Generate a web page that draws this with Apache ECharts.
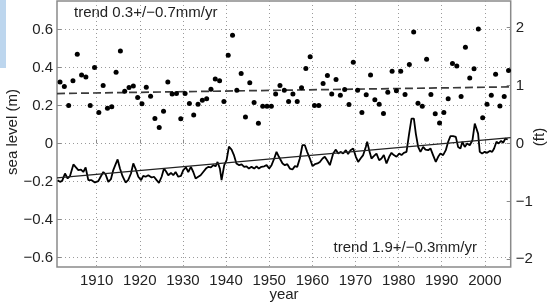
<!DOCTYPE html>
<html><head><meta charset="utf-8">
<script src="https://cdn.jsdelivr.net/npm/echarts@6/dist/echarts.min.js"></script>
<style>html,body{margin:0;padding:0;background:#fff;}#c{width:549px;height:306px;}</style>
</head><body><div id="c"></div>
<script>
// ---- data ----
var xTicks = [1910,1920,1930,1940,1950,1960,1970,1980,1990,2000];
var yTicksM = [-0.6,-0.4,-0.2,0,0.2,0.4,0.6];
var yTicksFt = [-2,-1,0,1,2];

var dotYears = [1901,1902,1903,1904,1905,1906,1907,1908,1909,1910,1911,1912,1913,1914,1915,1916,1917,1918,1919,1920,
1921,1922,1923,1924,1925,1926,1927,1928,1929,1930,1931,1932,1933,1934,1935,1936,1937,1938,1939,1940,
1941,1942,1943,1944,1945,1946,1947,1948,1949,1950,1951,1952,1953,1954,1955,1956,1957,1958,1959,1960,
1961,1962,1963,1964,1965,1966,1967,1968,1969,1970,1971,1972,1973,1974,1975,1976,1977,1978,1979,1980,
1981,1982,1983,1984,1985,1986,1987,1988,1989,1990,1991,1992,1993,1994,1995,1996,1997,1998,1999,2000,
2001,2002,2003,2004,2005];
var dotValues = [0.324,0.30,0.20,0.33,0.47,0.36,0.35,0.20,0.40,0.163,0.305,0.186,0.193,0.375,0.487,0.275,0.295,0.303,0.242,0.209,
0.296,0.249,0.131,0.084,0.17,0.324,0.26,0.263,0.13,0.263,0.21,0.15,0.207,0.228,0.235,0.286,0.34,0.33,0.221,0.465,
0.57,0.28,0.368,0.14,0.32,0.216,0.107,0.196,0.196,0.196,0.26,0.305,0.28,0.221,0.261,0.221,0.293,0.395,0.456,0.20,
0.20,0.316,0.358,0.261,0.337,0.254,0.284,0.205,0.428,0.28,0.163,0.256,0.361,0.23,0.207,0.158,0.27,0.38,0.277,0.38,
0.258,0.416,0.587,0.212,0.196,0.444,0.258,0.156,0.108,0.163,0.235,0.421,0.408,0.247,0.507,0.345,0.393,0.603,0.135,0.207,
0.254,0.365,0.198,0.247,0.384];

var lineYears = [1900.96,1901.5,1902.0,1902.65,1903.27,1903.8,1904.6,1905.2,1905.74,1906.36,1906.9,1907.44,1908.06,1908.83,1909.6,
1910.38,1910.92,1911.54,1912.08,1912.7,1913.3,1913.85,1914.4,1914.86,1915.4,1916.0,1916.7,1917.3,1917.95,1918.49,1919.0,1919.65,
1920.3,1920.8,1921.35,1921.97,1922.74,1923.28,1923.9,1924.44,1925.06,1925.6,1926.06,1926.6,1927.22,1927.76,1928.3,1928.92,1929.54,
1930.08,1930.7,1931.24,1931.85,1932.4,1932.94,1933.55,1934.1,1934.7,1935.33,1935.87,1936.49,1937.03,1937.57,1938.03,1938.57,1938.96,
1939.58,1940.12,1940.66,1941.28,1941.82,1942.4,1943.05,1943.6,1944.2,1944.75,1945.3,1945.9,1946.53,1947.07,1947.6,1948.2,1948.85,
1949.4,1950.0,1950.55,1951.17,1951.7,1952.25,1952.48,1953.1,1953.64,1954.2,1954.8,1955.4,1955.96,1956.5,1957.1,1957.7,1958.27,
1958.8,1959.43,1960.05,1960.6,1961.2,1961.75,1962.37,1962.9,1963.5,1964.07,1964.45,1964.84,1965.46,1966.0,1966.54,1967.16,1967.78,
1968.3,1968.86,1969.48,1970.1,1970.63,1971.18,1971.79,1972.4,1972.72,1973.18,1973.72,1974.26,1974.88,1975.5,1976.04,1976.58,1977.2,
1977.82,1978.36,1978.9,1979.52,1980.14,1980.68,1981.22,1981.84,1982.45,1983.0,1983.55,1984.0,1984.54,1985.08,1985.7,1986.24,1986.86,
1987.4,1988.0,1988.63,1989.18,1989.7,1990.33,1990.95,1991.5,1992.03,1992.65,1993.27,1993.8,1994.35,1994.8,1995.35,1995.9,1996.5,
1997.13,1997.67,1998.06,1998.44,1998.83,1999.37,1999.99,2000.53,2001.15,2001.7,2002.15,2002.7,2003.2,2003.77,2004.24,2004.78,2005.3];
var lineValues = [-0.193,-0.202,-0.197,-0.158,-0.184,-0.172,-0.11,-0.126,-0.14,-0.137,-0.15,-0.126,-0.193,-0.193,-0.205,
-0.198,-0.175,-0.15,-0.163,-0.202,-0.188,-0.14,-0.109,-0.084,-0.132,-0.172,-0.205,-0.193,-0.158,-0.105,-0.132,-0.175,
-0.193,-0.17,-0.175,-0.167,-0.179,-0.175,-0.193,-0.207,-0.175,-0.132,-0.146,-0.167,-0.155,-0.167,-0.15,-0.175,-0.17,
-0.14,-0.126,-0.15,-0.123,-0.15,-0.184,-0.175,-0.167,-0.15,-0.132,-0.123,-0.126,-0.114,-0.12,-0.097,-0.132,-0.193,
-0.114,-0.088,-0.017,-0.032,-0.061,-0.105,-0.114,-0.11,-0.123,-0.12,-0.132,-0.123,-0.132,-0.12,-0.132,-0.123,-0.12,
-0.114,-0.132,-0.114,-0.079,-0.044,-0.07,-0.079,-0.105,-0.114,-0.109,-0.132,-0.137,-0.119,-0.123,-0.079,-0.009,-0.009,
-0.044,-0.079,-0.119,-0.109,-0.105,-0.097,-0.079,-0.07,-0.091,-0.114,-0.123,-0.053,-0.032,-0.053,-0.044,-0.053,-0.035,
-0.056,-0.035,-0.026,-0.07,-0.097,-0.079,-0.061,-0.018,0.009,-0.035,-0.079,-0.067,-0.053,-0.088,-0.079,-0.061,-0.105,
-0.07,-0.049,-0.061,-0.07,-0.053,-0.061,-0.049,-0.044,0.052,0.131,0.131,0.052,-0.018,-0.044,-0.018,-0.032,-0.035,
-0.026,-0.061,-0.097,-0.07,-0.053,-0.061,-0.035,0.009,0.039,0.039,0.035,-0.018,-0.026,0.009,-0.018,0.0,-0.009,
0.017,0.105,0.114,0.052,-0.044,-0.053,-0.044,-0.049,-0.039,-0.044,-0.026,0.009,0.0,0.014,0.004,0.026,0.021];

var trendYears = [1900.8, 2006];
var trendLine = [-0.181, 0.031];   // 1.9 mm/yr
var trendDots = [0.263, 0.298];    // 0.3 mm/yr

function pairs(xs, ys) { return xs.map(function (x, i) { return [x, ys[i]]; }); }
function minus(s) { return String(s).replace('-', '\u2212'); }

var FONT = 'Liberation Sans, Arial, Helvetica, sans-serif';
var FS = 15;
var chart = echarts.init(document.getElementById('c'), null, {renderer: 'canvas'});
var gridStyle = {show: true, lineStyle: {color: '#9a9a9a', width: 1, type: [1, 3]}};

chart.setOption({
  animation: false,
  backgroundColor: '#fff',
  grid: {left: 57, top: 1, right: 38.3, height: 266, show: true, borderColor: '#8a8a8a', borderWidth: 1.5, backgroundColor: 'transparent'},
  xAxis: {
    type: 'value', min: 1900.8, max: 2006,
    axisLine: {show: false},
    axisTick: {show: true, inside: true, length: 4, lineStyle: {color: '#8a8a8a'}, customValues: xTicks},
    axisLabel: {customValues: xTicks, margin: 6, color: '#222', fontSize: FS, fontFamily: FONT,
      formatter: function (v) { return String(Math.round(v)); }},
    splitLine: gridStyle
  },
  yAxis: [{
    type: 'value', min: -0.65, max: 0.75,
    axisLine: {show: false},
    axisTick: {show: true, inside: true, length: 4, lineStyle: {color: '#8a8a8a'}, customValues: yTicksM},
    axisLabel: {customValues: yTicksM, margin: 4, color: '#222', fontSize: FS, fontFamily: FONT,
      formatter: function (v) { return Math.abs(v) < 1e-9 ? '0' : minus((+v).toFixed(1)); }},
    splitLine: gridStyle
  }, {
    type: 'value', position: 'right', min: -0.65 / 0.3048, max: 0.75 / 0.3048,
    axisLine: {show: false},
    axisTick: {show: true, inside: true, length: 4, lineStyle: {color: '#8a8a8a'}, customValues: yTicksFt},
    axisLabel: {customValues: yTicksFt, margin: 5, color: '#222', fontSize: FS, fontFamily: FONT,
      formatter: function (v) { return minus(Math.round(v)); }},
    splitLine: {show: false}
  }],
  series: [{
    type: 'scatter', yAxisIndex: 0, symbol: 'circle', symbolSize: 5,
    itemStyle: {color: '#000', opacity: 1}, data: pairs(dotYears.map(function (y) { return y + 0.5; }), dotValues), z: 5
  }, {
    type: 'line', yAxisIndex: 0, showSymbol: false, symbol: 'none',
    lineStyle: {color: '#3a3a3a', width: 1.7, type: [8, 4]}, data: pairs(trendYears, trendDots), z: 4
  }, {
    type: 'line', yAxisIndex: 0, showSymbol: false, symbol: 'none',
    lineStyle: {color: '#000', width: 1.8}, data: pairs(lineYears, lineValues), z: 4
  }, {
    type: 'line', yAxisIndex: 0, showSymbol: false, symbol: 'none',
    lineStyle: {color: '#222', width: 1.4}, data: pairs(trendYears, trendLine), z: 4
  }],
  graphic: [
    {type: 'rect', left: 0, top: 0, shape: {width: 6, height: 68}, style: {fill: '#bdd6ee'}, silent: true},
    {type: 'text', x: 74, y: 13, style: {text: 'trend 0.3+/\u22120.7mm/yr', fill: '#222', font: FS + 'px ' + FONT, textAlign: 'left', textVerticalAlign: 'middle'}},
    {type: 'text', x: 477, y: 248, style: {text: 'trend 1.9+/\u22120.3mm/yr', fill: '#222', font: FS + 'px ' + FONT, textAlign: 'right', textVerticalAlign: 'middle'}},
    {type: 'text', x: 284, y: 295, style: {text: 'year', fill: '#222', font: FS + 'px ' + FONT, textAlign: 'center', textVerticalAlign: 'middle'}},
    {type: 'text', x: 13, y: 132, rotation: Math.PI / 2, style: {text: 'sea level (m)', fill: '#222', font: FS + 'px ' + FONT, textAlign: 'center', textVerticalAlign: 'middle'}},
    {type: 'text', x: 540, y: 137, rotation: Math.PI / 2, style: {text: '(ft)', fill: '#222', font: FS + 'px ' + FONT, textAlign: 'center', textVerticalAlign: 'middle'}}
  ]
});
</script>
</body></html>
